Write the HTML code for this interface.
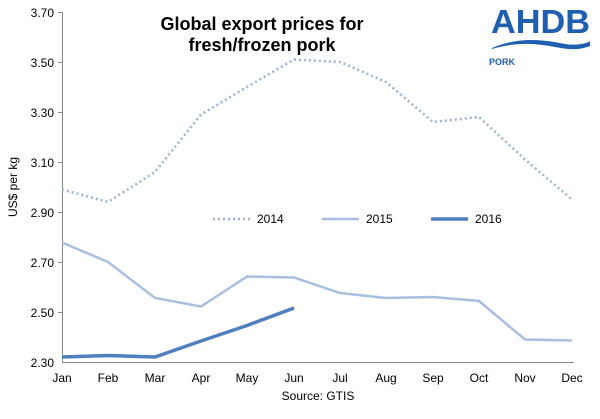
<!DOCTYPE html>
<html><head><style>body{margin:0;background:#fff}</style></head><body>
<svg width="600" height="414" xmlns="http://www.w3.org/2000/svg" font-family="Liberation Sans, Arial, sans-serif">
<rect width="600" height="414" fill="#fff"/>
<g stroke="#888" stroke-width="1">
<line x1="62.5" y1="12" x2="62.5" y2="362"/>
<line x1="62" y1="362.5" x2="574" y2="362.5"/>
<line x1="58" y1="12.5" x2="62" y2="12.5"/><line x1="58" y1="62.5" x2="62" y2="62.5"/><line x1="58" y1="112.5" x2="62" y2="112.5"/><line x1="58" y1="162.5" x2="62" y2="162.5"/><line x1="58" y1="212.5" x2="62" y2="212.5"/><line x1="58" y1="262.5" x2="62" y2="262.5"/><line x1="58" y1="312.5" x2="62" y2="312.5"/>
</g>
<g font-size="12" fill="#000" text-anchor="end">
<text x="54" y="17">3.70</text><text x="54" y="67">3.50</text><text x="54" y="117">3.30</text><text x="54" y="167">3.10</text><text x="54" y="217">2.90</text><text x="54" y="267">2.70</text><text x="54" y="317">2.50</text><text x="54" y="367">2.30</text>
</g>
<g font-size="12" fill="#000" text-anchor="middle">
<text x="62" y="382">Jan</text><text x="108" y="382">Feb</text><text x="155" y="382">Mar</text><text x="201" y="382">Apr</text><text x="247" y="382">May</text><text x="294" y="382">Jun</text><text x="340" y="382">Jul</text><text x="386" y="382">Aug</text><text x="433" y="382">Sep</text><text x="479" y="382">Oct</text><text x="525" y="382">Nov</text><text x="572" y="382">Dec</text>
<text x="318" y="400">Source:  GTIS</text>
</g>
<text transform="translate(17,187) rotate(-90)" font-size="12" text-anchor="middle">US$ per kg</text>
<text x="262" y="30" font-size="18" font-weight="bold" text-anchor="middle">Global export prices for</text>
<text x="262" y="51" font-size="18" font-weight="bold" text-anchor="middle">fresh/frozen pork</text>
<polyline fill="none" stroke="#9bb3d6" stroke-width="2.5" stroke-dasharray="2,3" points="62,189.5 108,202 155,172 201,114.5 247,87 294,59.5 340,62 386,82 433,122 479,117 525,159.5 572,199.5"/>
<polyline fill="none" stroke="#a9bfdf" stroke-width="2.5" points="62,242.5 108,262 155,298 201,306.5 247,276.5 294,277.5 340,293 386,298 433,297 479,301 525,339.5 572,340.5"/>
<polyline fill="none" stroke="#4f7fbf" stroke-width="3.5" points="62,357 108,355.5 155,357 201,341 247,325.5 294,308"/>
<line x1="213" y1="219" x2="250" y2="219" stroke="#9bb3d6" stroke-width="2.5" stroke-dasharray="2,3"/>
<text x="257" y="223" font-size="12">2014</text>
<line x1="322" y1="219" x2="359" y2="219" stroke="#a9bfdf" stroke-width="2.5"/>
<text x="366" y="223" font-size="12">2015</text>
<line x1="431" y1="219" x2="468" y2="219" stroke="#4f7fbf" stroke-width="3.5"/>
<text x="475" y="223" font-size="12">2016</text>
<text x="491" y="33" font-size="33" font-weight="bold" fill="#1f5fb0" textLength="99" lengthAdjust="spacingAndGlyphs">AHDB</text>
<path d="M492,48 C520,36 545,40 565,44 C578,46 588,43 590,41 L590,46 C580,50 570,50 555,47 C535,43 515,42 492,49 Z" fill="#1f5fb0"/>
<text x="489" y="65" font-size="9" font-weight="bold" fill="#1f5fb0">PORK</text>
</svg>
</body></html>
